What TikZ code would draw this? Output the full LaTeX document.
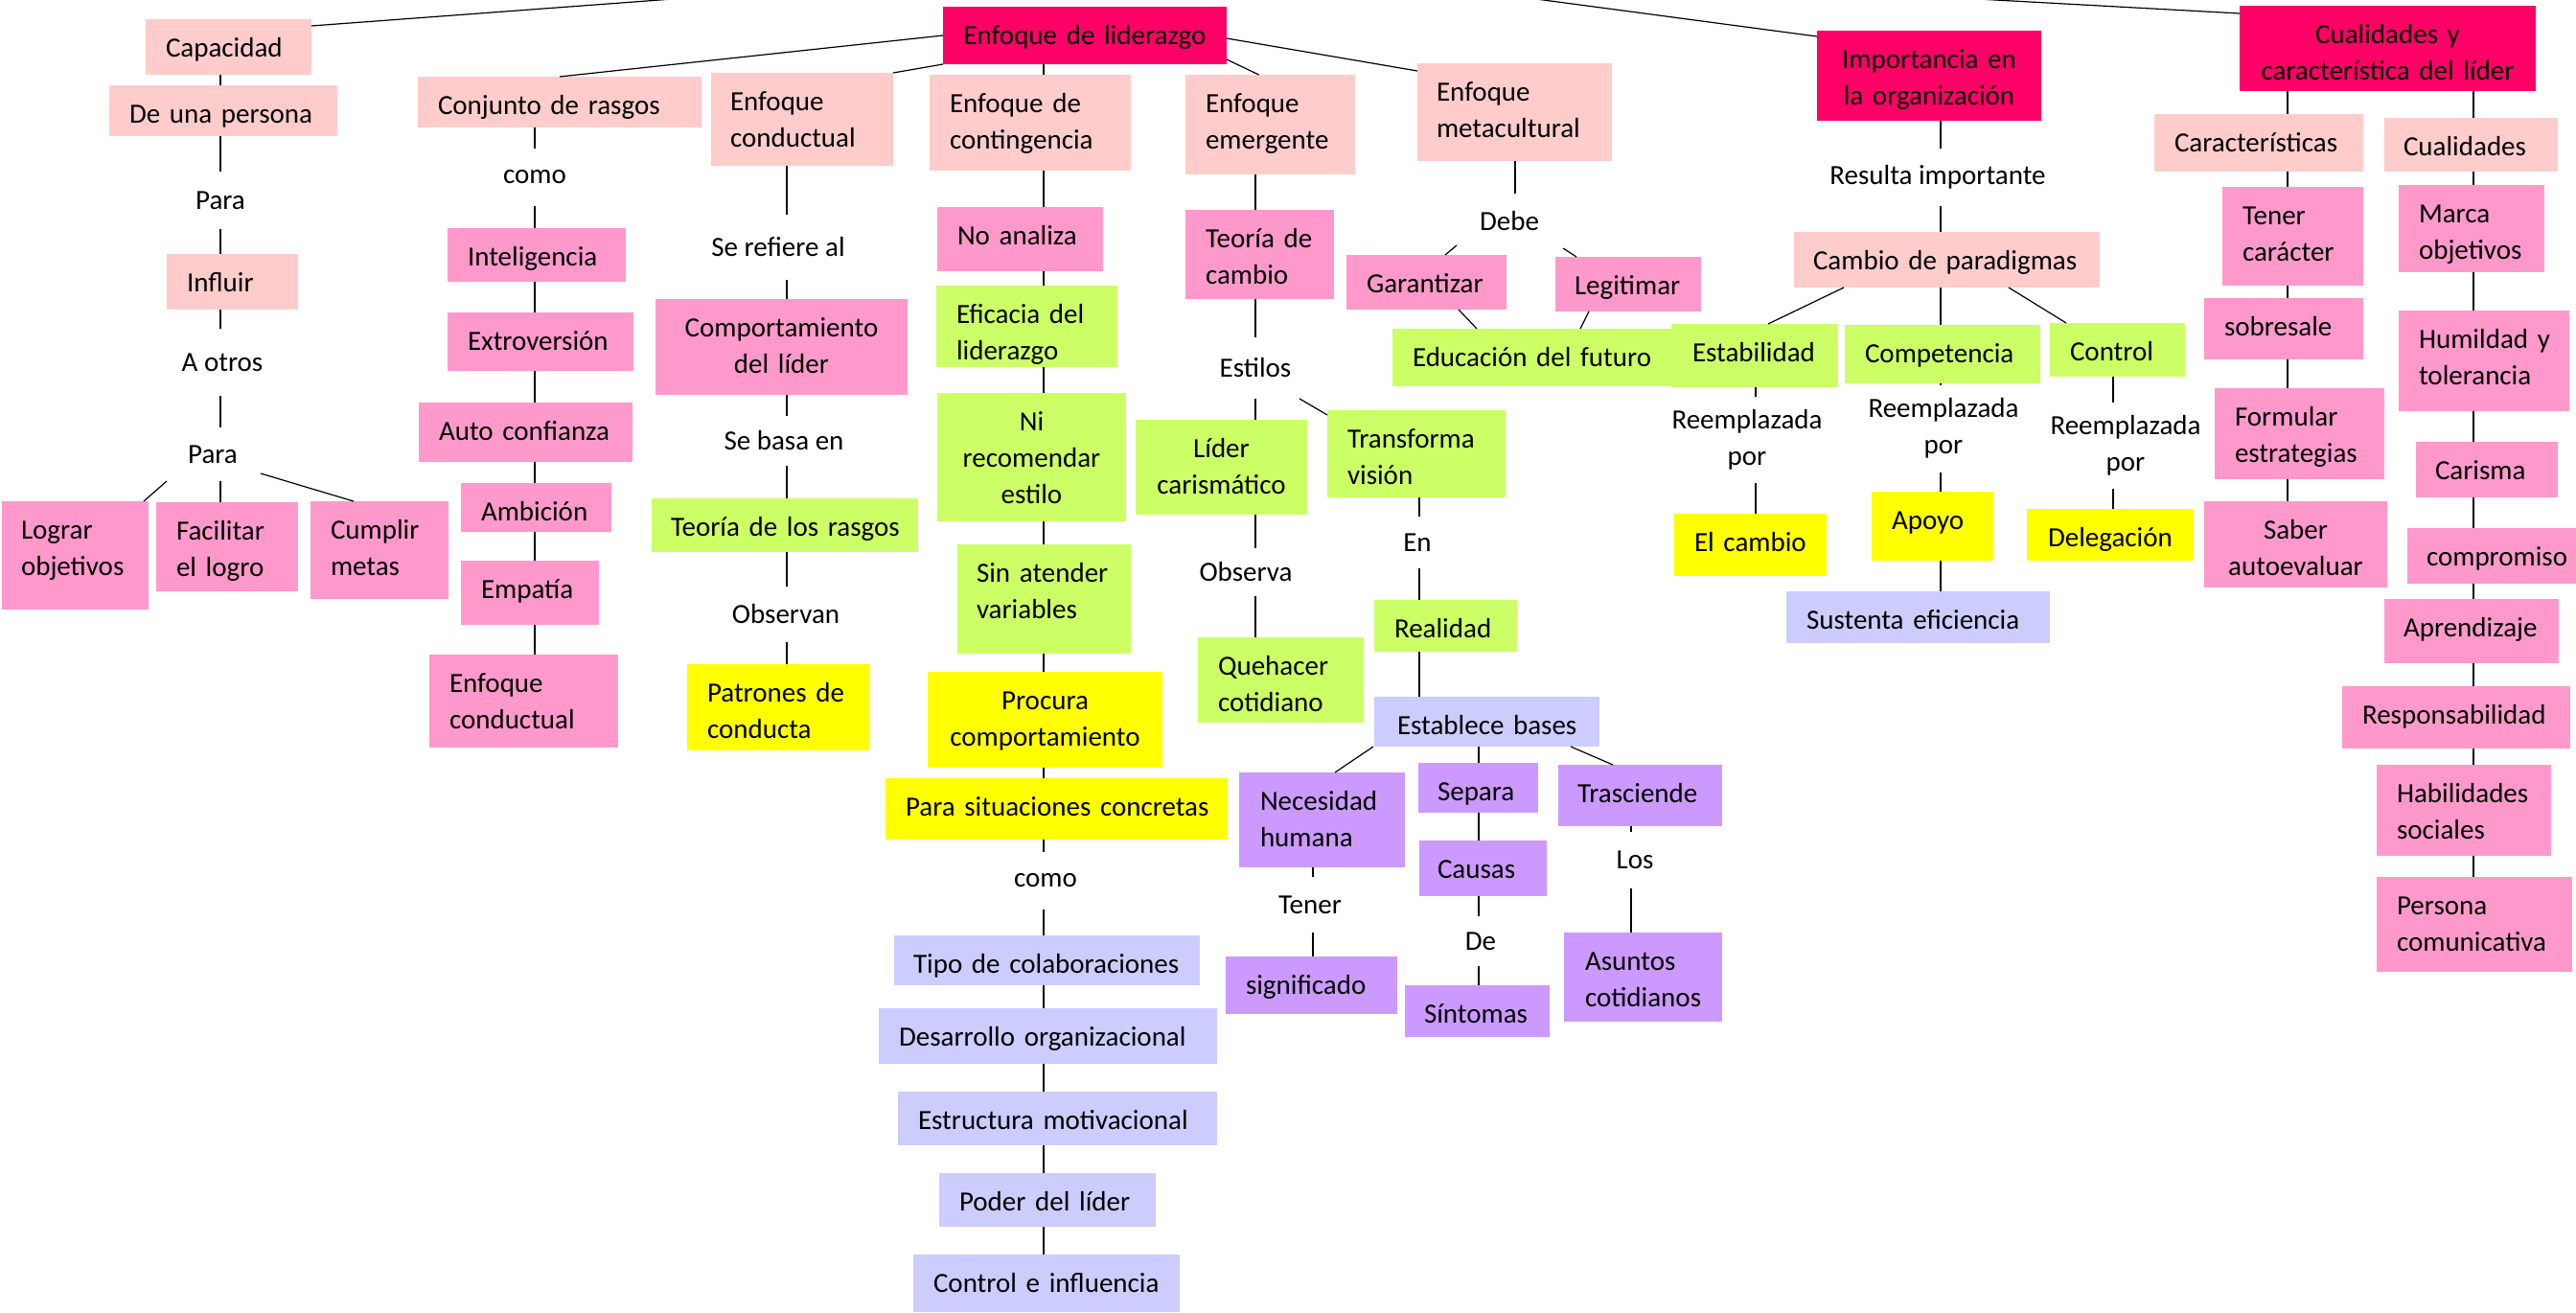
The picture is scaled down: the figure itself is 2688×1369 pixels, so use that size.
\documentclass[tikz,border=0pt]{standalone}
\usepackage{fontspec}
\setmainfont{Carlito}
\usetikzlibrary{calc}
\definecolor{dp}{HTML}{FF0066}
\definecolor{lp}{HTML}{FFCCCC}
\definecolor{mp}{HTML}{FF99CC}
\definecolor{gr}{HTML}{CCFF66}
\definecolor{ye}{HTML}{FFFF00}
\definecolor{lv}{HTML}{CCCCFF}
\definecolor{pu}{HTML}{CC99FF}
\tikzset{
 boxs/.style={draw=none, inner sep=0pt, outer sep=0pt, rectangle},
 txt/.style={inner sep=0pt, outer sep=0pt, font=\fontsize{29}{38}\selectfont},
 lbl/.style={inner sep=0pt, outer sep=0pt, font=\fontsize{29}{38}\selectfont, align=center, minimum height=60pt},
 con/.style={line width=1.2pt, black},
}
% left-aligned text box: [pad]{name}{x1}{y1}{x2}{y2}{colour}{text}
\newcommand\bx[8][21]{%
 \pgfmathsetmacro\bxw{#5-#3}\pgfmathsetmacro\bxh{#6-#4}%
 \pgfmathsetmacro\bxcx{(#3+#5)/2}\pgfmathsetmacro\bxcy{(#4+#6)/2}%
 \pgfmathsetmacro\bxtx{#3+#1}\pgfmathsetmacro\bxty{#4+39}%
 \node[boxs, fill=#7, minimum width=\bxw pt, minimum height=\bxh pt] (#2) at (\bxcx,\bxcy) {};
 \node[txt, anchor=base west, text width=\bxw pt, align=left] (#2-t) at (\bxtx,\bxty) {#8};
}
% centred text box
\newcommand\bxc[7]{%
 \pgfmathsetmacro\bxw{#4-#2}\pgfmathsetmacro\bxh{#5-#3}%
 \pgfmathsetmacro\bxcx{(#2+#4)/2}\pgfmathsetmacro\bxcy{(#3+#5)/2}%
 \pgfmathsetmacro\bxty{#3+39}%
 \node[boxs, fill=#6, minimum width=\bxw pt, minimum height=\bxh pt] (#1) at (\bxcx,\bxcy) {};
 \node[txt, anchor=base, text width=\bxw pt, align=center] (#1-t) at (\bxcx,\bxty) {#7};
}
\begin{document}
\begin{tikzpicture}[x=1pt,y=-1pt]
\useasboundingbox (0,0) rectangle (2688,1369);
\clip (0,0) rectangle (2688,1369);
\coordinate (root) at (1280,-44);
\coordinate (vA) at (230,0);
\coordinate (vB) at (558,0);
\coordinate (vC3) at (821,0);
\coordinate (vC) at (1089,0);
\coordinate (vE) at (1310,0);
\coordinate (vEn) at (1481,0);
\coordinate (vS) at (1543,0);
\coordinate (vT) at (1370,0);
\coordinate (vL) at (1702,0);
\coordinate (vM) at (1581,0);
\coordinate (vI) at (2025,0);
\coordinate (vR1) at (1832,0);
\coordinate (vR3) at (2205,0);
\coordinate (vK) at (2387,0);
\coordinate (vQ) at (2581,0);

% ---- boxes ----
\bxc{lid}{984}{7}{1280}{67}{dp}{Enfoque de liderazgo}
% left column
\bx{cap}{152}{20}{325}{78}{lp}{Capacidad}
\bx{deuna}{114}{89}{352}{142}{lp}{De una persona}
\bx{infl}{174}{265}{311}{323}{lp}{Influir}
\bx[20]{lograr}{2}{523}{155}{636}{mp}{Lograr\\objetivos}
\bx{facil}{163}{524}{311}{617}{mp}{Facilitar\\el logro}
\bx{cumplir}{324}{523}{468}{625}{mp}{Cumplir\\metas}
% rasgos
\bx{conj}{436}{80}{732}{133}{lp}{Conjunto de rasgos}
\bx{intel}{467}{238}{653}{294}{mp}{Inteligencia}
\bx{extro}{467}{326}{661}{387}{mp}{Extroversión}
\bx{auto}{437}{420}{660}{482}{mp}{Auto confianza}
\bx{ambi}{481}{504}{638}{555}{mp}{Ambición}
\bx{empa}{481}{585}{625}{652}{mp}{Empatía}
\bx{enfc}{448}{683}{645}{780}{mp}{Enfoque\\conductual}
% conductual
\bx[20]{cond}{742}{76}{932}{173}{lp}{Enfoque\\conductual}
\bxc{comp}{684}{312}{947}{412}{mp}{Comportamiento\\del líder}
\bx[20]{teor}{680}{520}{958}{576}{gr}{Teoría de los rasgos}
\bx{patr}{717}{693}{907}{783}{ye}{Patrones de\\conducta}
% contingencia
\bx{cont}{970}{78}{1180}{178}{lp}{Enfoque de\\contingencia}
\bx{noan}{978}{216}{1151}{283}{mp}{No analiza}
\bx{efic}{977}{298}{1166}{383}{gr}{Eficacia del\\liderazgo}
\bxc{nirec}{978}{410}{1175}{544}{gr}{Ni\\recomendar\\estilo}
\bx[20]{sinat}{999}{568}{1180}{682}{gr}{Sin atender\\variables}
\bxc{proc}{968}{701}{1213}{801}{ye}{Procura\\comportamiento}
\bx{parasit}{924}{812}{1281}{876}{ye}{Para situaciones concretas}
\bx[20]{tipo}{933}{976}{1252}{1028}{lv}{Tipo de colaboraciones}
\bx{desa}{917}{1052}{1270}{1110}{lv}{Desarrollo organizacional}
\bx{estr}{937}{1139}{1270}{1195}{lv}{Estructura motivacional}
\bx{poder}{980}{1224}{1206}{1280}{lv}{Poder del líder}
\bx{ctrl}{953}{1309}{1231}{1369}{lv}{Control e influencia}
% emergente
\bx{emer}{1237}{78}{1414}{182}{lp}{Enfoque\\emergente}
\bx{teoc}{1237}{219}{1392}{312}{mp}{Teoría de\\cambio}
\bxc{lider}{1185}{438}{1364}{537}{gr}{Líder\\carismático}
\bx{transf}{1385}{428}{1571}{519}{gr}{Transforma\\visión}
\bx{queh}{1250}{665}{1423}{754}{gr}{Quehacer\\cotidiano}
\bx{real}{1434}{626}{1583}{680}{gr}{Realidad}
\bx[24]{estab}{1434}{727}{1669}{779}{lv}{Establece bases}
\bx[22]{neces}{1293}{806}{1466}{905}{pu}{Necesidad\\humana}
\bx[20]{separa}{1480}{796}{1605}{848}{pu}{Separa}
\bx[20]{trasc}{1626}{798}{1797}{862}{pu}{Trasciende}
\bx[19]{causas}{1481}{877}{1614}{935}{pu}{Causas}
\bx[20]{sint}{1466}{1028}{1617}{1082}{pu}{Síntomas}
\bx{signif}{1279}{998}{1458}{1058}{pu}{significado}
\bx[22]{asuntos}{1632}{973}{1797}{1066}{pu}{Asuntos\\cotidianos}
% metacultural
\bx[20]{meta}{1479}{66}{1682}{168}{lp}{Enfoque\\metacultural}
\bx{garan}{1405}{266}{1572}{323}{mp}{Garantizar}
\bx[20]{legit}{1623}{268}{1775}{325}{mp}{Legitimar}
\bx{educ}{1453}{343}{1760}{403}{gr}{Educación del futuro}
% importancia
\bxc{impo}{1896}{32}{2130}{126}{dp}{Importancia en\\la organización}
\bx[20]{cambio}{1872}{242}{2191}{300}{lp}{Cambio de paradigmas}
\bx[22]{estabi}{1744}{338}{1918}{404}{gr}{Estabilidad}
\bx{compet}{1925}{339}{2129}{400}{gr}{Competencia}
\bx{control}{2139}{337}{2280}{393}{gr}{Control}
\bx{elcambio}{1747}{536}{1906}{601}{ye}{El cambio}
\bx{apoyo}{1953}{513}{2080}{585}{ye}{Apoyo}
\bx{sustenta}{1864}{617}{2139}{671}{lv}{Sustenta eficiencia}
\bx[22]{deleg}{2115}{531}{2289}{585}{ye}{Delegación}
% cualidades
\bxc{cualy}{2337}{6}{2646}{95}{dp}{Cualidades y\\característica del líder}
\bx{caract}{2248}{119}{2466}{179}{lp}{Características}
\bx[20]{cualid}{2488}{123}{2669}{179}{lp}{Cualidades}
\bx{tener}{2319}{195}{2466}{298}{mp}{Tener\\carácter}
\bx{sobre}{2300}{311}{2466}{375}{mp}{sobresale}
\bx{formu}{2311}{405}{2488}{500}{mp}{Formular\\estrategias}
\bxc{saber}{2300}{523}{2491}{613}{mp}{Saber\\autoevaluar}
\bx{marca}{2503}{193}{2655}{284}{mp}{Marca\\objetivos}
\bx{humil}{2503}{324}{2681}{429}{mp}{Humildad y\\tolerancia}
\bx[20]{caris}{2521}{461}{2669}{519}{mp}{Carisma}
\bx[20]{compr}{2512}{551}{2688}{609}{mp}{compromiso}
\bx[20]{apren}{2488}{625}{2670}{692}{mp}{Aprendizaje}
\bx{respo}{2444}{716}{2682}{781}{mp}{Responsabilidad}
\bx{habil}{2480}{798}{2662}{893}{mp}{Habilidades\\sociales}
\bx{perso}{2480}{915}{2684}{1014}{mp}{Persona\\comunicativa}

% ---- labels ----
\node[lbl] (para1) at (230,209) {Para};
\node[lbl, minimum height=70pt] (aotros) at (232,378) {A otros};
\node[lbl, minimum height=56pt] (para2) at (222,474) {Para};
\node[lbl] (como1) at (558,185) {como};
\node[lbl, minimum height=68pt] (seref) at (812,258) {Se refiere al};
\node[lbl, minimum height=52pt] (sebasa) at (818,460) {Se basa en};
\node[lbl, minimum height=58pt] (observan) at (820,641) {Observan};
\node[lbl] (como2) at (1091,919) {como};
\node[lbl, minimum height=64pt] (estilos) at (1310,384) {Estilos};
\node[lbl, minimum height=50pt] (observa) at (1300,597) {Observa};
\node[lbl, minimum height=54pt] (en) at (1479,566) {En};
\node[lbl, minimum height=52pt] (de) at (1545,982) {De};
\node[lbl, minimum height=58pt] (tenerl) at (1367,944) {Tener};
\node[lbl, minimum height=59pt] (los) at (1706,897) {Los};
\node[lbl, minimum height=58pt] (debe) at (1575,231) {Debe};
\node[lbl] (resulta) at (2022,185) {Resulta importante};
\node[lbl, minimum height=90pt] (reemp1) at (1823,459) {Reemplazada\\por};
\node[lbl, minimum height=91pt] (reemp2) at (2028,447) {Reemplazada\\por};
\node[lbl, minimum height=90pt] (reemp3) at (2218,465) {Reemplazada\\por};

% ---- connectors ----
\begin{scope}[con]
% to the root above the picture
\draw ([yshift=-7pt]cap.north east) -- (root);
\draw ([yshift=-6pt]impo.north west) -- (root);
\draw ([yshift=-8pt]cualy.north west) -- (root);
% enfoque de liderazgo
\draw (lid.west) -- (conj.north);
\draw (lid.south west) -- (cond.north east);
\draw (lid.south -| vC) -- (cont.north -| vC);
\draw ([yshift=5pt]lid.south east) -- ([xshift=-12pt]emer.north);
\draw ([yshift=-3pt]lid.east) -- ([yshift=-8pt]meta.north west);
% left column
\draw (cap.south -| vA) -- (deuna.north -| vA);
\draw (deuna.south -| vA) -- (para1.north -| vA);
\draw (para1.south -| vA) -- (infl.north -| vA);
\draw (infl.south -| vA) -- (aotros.north -| vA);
\draw (aotros.south -| vA) -- (para2.north -| vA);
\draw ($(para2)+(-48,28)$) -- ($(lograr.north east)+(-5,0)$);
\draw (para2.south -| vA) -- (facil.north -| vA);
\draw ($(para2)+(50,20)$) -- ($(cumplir.north west)+(45,0)$);
% rasgos
\draw (conj.south -| vB) -- (como1.north -| vB);
\draw (como1.south -| vB) -- (intel.north -| vB);
\draw (intel.south -| vB) -- (extro.north -| vB);
\draw (extro.south -| vB) -- (auto.north -| vB);
\draw (auto.south -| vB) -- (ambi.north -| vB);
\draw (ambi.south -| vB) -- (empa.north -| vB);
\draw (empa.south -| vB) -- (enfc.north -| vB);
% conductual
\draw (cond.south -| vC3) -- (seref.north -| vC3);
\draw (seref.south -| vC3) -- (comp.north -| vC3);
\draw (comp.south -| vC3) -- (sebasa.north -| vC3);
\draw (sebasa.south -| vC3) -- (teor.north -| vC3);
\draw (teor.south -| vC3) -- (observan.north -| vC3);
\draw (observan.south -| vC3) -- (patr.north -| vC3);
% contingencia
\draw (cont.south -| vC) -- (noan.north -| vC);
\draw (noan.south -| vC) -- (efic.north -| vC);
\draw (efic.south -| vC) -- (nirec.north -| vC);
\draw (nirec.south -| vC) -- (sinat.north -| vC);
\draw (sinat.south -| vC) -- (proc.north -| vC);
\draw (proc.south -| vC) -- (parasit.north -| vC);
\draw (parasit.south -| vC) -- (como2.north -| vC);
\draw (como2.south -| vC) -- (tipo.north -| vC);
\draw (tipo.south -| vC) -- (desa.north -| vC);
\draw (desa.south -| vC) -- (estr.north -| vC);
\draw (estr.south -| vC) -- (poder.north -| vC);
\draw (poder.south -| vC) -- (ctrl.north -| vC);
% emergente
\draw (emer.south -| vE) -- (teoc.north -| vE);
\draw (teoc.south -| vE) -- (estilos.north -| vE);
\draw (estilos.south -| vE) -- (lider.north -| vE);
\draw ($(estilos)+(46,32)$) -- ($(transf.north west)+(0,5)$);
\draw (lider.south -| vE) -- (observa.north -| vE);
\draw (observa.south -| vE) -- (queh.north -| vE);
\draw (transf.south -| vEn) -- (en.north -| vEn);
\draw (en.south -| vEn) -- (real.north -| vEn);
\draw (real.south -| vEn) -- (estab.north -| vEn);
\draw ($(estab.south west)+(-1,0)$) -- ($(neces.north east)+(-73,0)$);
\draw (estab.south -| vS) -- (separa.north -| vS);
\draw ($(estab.south east)+(-30,0)$) -- ($(trasc.north west)+(57,0)$);
\draw (separa.south -| vS) -- (causas.north -| vS);
\draw (causas.south -| vS) -- (de.north -| vS);
\draw (de.south -| vS) -- (sint.north -| vS);
\draw (neces.south -| vT) -- (tenerl.north -| vT);
\draw (tenerl.south -| vT) -- (signif.north -| vT);
\draw (trasc.south -| vL) -- (los.north -| vL);
\draw (los.south -| vL) -- (asuntos.north -| vL);
% metacultural
\draw (meta.south -| vM) -- (debe.north -| vM);
\draw ($(debe)+(-55,25)$) -- ($(garan.north)+(19.5,0)$);
\draw ($(debe)+(56,28)$) -- ($(legit.north)+(-54,0)$);
\draw ($(garan.south)+(33.5,0)$) -- ($(educ.north west)+(88,0)$);
\draw ($(legit.south)+(-41,0)$) -- ($(educ.north west)+(196,0)$);
% importancia
\draw (impo.south -| vI) -- (resulta.north -| vI);
\draw (resulta.south -| vI) -- (cambio.north -| vI);
\draw ($(cambio.south west)+(52,0)$) -- ($(estabi.north west)+(101,0)$);
\draw (cambio.south -| vI) -- (compet.north -| vI);
\draw ($(cambio.south east)+(-95,0)$) -- ($(control.north west)+(17,0)$);
\draw (estabi.south -| vR1) -- (reemp1.north -| vR1);
\draw (reemp1.south -| vR1) -- (elcambio.north -| vR1);
\draw (compet.south -| vI) -- (reemp2.north -| vI);
\draw (reemp2.south -| vI) -- (apoyo.north -| vI);
\draw (apoyo.south -| vI) -- (sustenta.north -| vI);
\draw (control.south -| vR3) -- (reemp3.north -| vR3);
\draw (reemp3.south -| vR3) -- (deleg.north -| vR3);
% cualidades
\draw (cualy.south -| vK) -- (caract.north -| vK);
\draw (caract.south -| vK) -- (tener.north -| vK);
\draw (tener.south -| vK) -- (sobre.north -| vK);
\draw (sobre.south -| vK) -- (formu.north -| vK);
\draw (formu.south -| vK) -- (saber.north -| vK);
\draw (cualy.south -| vQ) -- (cualid.north -| vQ);
\draw (cualid.south -| vQ) -- (marca.north -| vQ);
\draw (marca.south -| vQ) -- (humil.north -| vQ);
\draw (humil.south -| vQ) -- (caris.north -| vQ);
\draw (caris.south -| vQ) -- (compr.north -| vQ);
\draw (compr.south -| vQ) -- (apren.north -| vQ);
\draw (apren.south -| vQ) -- (respo.north -| vQ);
\draw (respo.south -| vQ) -- (habil.north -| vQ);
\draw (habil.south -| vQ) -- (perso.north -| vQ);
\end{scope}
\end{tikzpicture}
\end{document}
